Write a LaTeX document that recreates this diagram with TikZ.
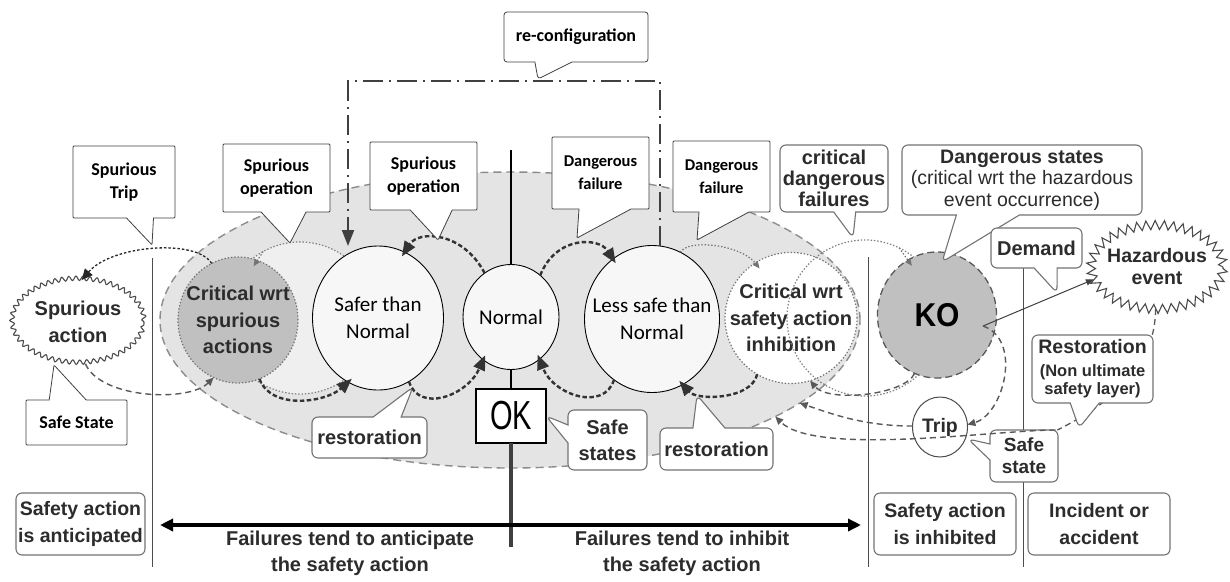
\documentclass[tikz,border=0pt]{standalone}
\usepackage{fontspec}
\usepackage{graphicx}
\setmainfont{Carlito}
\newfontfamily\arialfam{Liberation Sans}
\usetikzlibrary{shapes.geometric,shapes.callouts,arrows.meta,decorations.pathmorphing}
\definecolor{zonefill}{HTML}{E4E4E4}
\definecolor{halofill}{HTML}{EFEFEF}
\definecolor{darkfill}{HTML}{C0C0C0}
\definecolor{statefill}{HTML}{F7F7F7}
\definecolor{ink}{HTML}{2C2C2C}
\newcommand\calfont[2]{\fontsize{#1}{#2}\selectfont\bfseries}
\newcommand\arbold[2]{\arialfam\fontsize{#1}{#2}\selectfont\bfseries}
\newcommand\arreg[2]{\arialfam\fontsize{#1}{#2}\selectfont}

\begin{document}
\begin{tikzpicture}[x=1pt,y=-1pt,
  every node/.style={inner sep=0pt,outer sep=0pt,align=center},
  dims/.style 2 args={minimum width=#1pt,minimum height=#2pt},
  tight/.style={inner xsep=-40pt,inner ysep=-30pt},
  zonestyle/.style={ellipse,fill=zonefill,draw=black!45,line width=1.4pt,dash pattern=on 8pt off 5pt},
  halostyle/.style={circle,draw=black!50,line width=1.2pt,dash pattern=on 1.4pt off 1.9pt},
  statecirc/.style={ellipse,tight,draw=black,line width=0.9pt,fill=statefill,font=\fontsize{21}{27}\selectfont},
  critcirc/.style={ellipse,tight,draw=black!55,line width=1.2pt,dash pattern=on 1.4pt off 1.9pt,font=\arbold{20}{26.5},text=ink},
  calbox/.style={rectangle callout,draw=black!75,line width=0.8pt,fill=white,rounded corners=1pt},
  rndbox/.style={rectangle callout,draw=black!55,line width=1.1pt,fill=white,rounded corners=6pt,text=ink},
  plainbox/.style={rectangle,draw=black!55,line width=1.1pt,fill=white,rounded corners=6pt,text=ink,font=\arbold{19.5}{27}},
  sepline/.style={draw=black!70,line width=1pt},
  axisthin/.style={draw=black,line width=2pt},
  axisthick/.style={draw=black!75,line width=3.5pt},
  bigarr/.style={draw=black!80,line width=2.4pt,dash pattern=on 4.5pt off 2.5pt,-{Triangle[length=15pt,width=12pt]},shorten >=-5pt},
  dotsmall/.style={draw=black!55,line width=1.2pt,dash pattern=on 1.4pt off 1.9pt,-{Triangle[length=7pt,width=6pt]},shorten >=-7pt},
  dotarr/.style={draw=black!85,line width=1.3pt,dash pattern=on 2.5pt off 2pt,-{Triangle[length=11pt,width=10pt]}},
  dasharr/.style={draw=black!65,line width=1.4pt,dash pattern=on 6pt off 4pt,-{Triangle[length=8pt,width=7pt]}},
  thinarr/.style={draw=black!75,line width=1pt,-{Triangle[length=8pt,width=6pt]}},
  dashplain/.style={draw=black!65,line width=1.3pt,dash pattern=on 6pt off 4pt},
  reconf/.style={draw=black!75,line width=2pt,dash pattern=on 20pt off 6pt on 2pt off 6pt,-{Triangle[length=16pt,width=12pt]}},
  mainarrow/.style={draw=black,line width=4pt,{Triangle[length=13pt,width=12pt]}-{Triangle[length=13pt,width=12pt]}},
  wavy/.style={decorate,decoration={snake,segment length=7pt,amplitude=2.2pt}},
  spiky/.style={decorate,decoration={zigzag,segment length=9pt,amplitude=4.5pt}}
]
\useasboundingbox (0,0) rectangle (1230,581);
\fill[white] (0,0) rectangle (1230,581);

% failure zone and halo behind the spurious side
\node[zonestyle,dims={700}{296}] (zone) at (510,320) {};
\node[halostyle,fill=halofill,minimum size=152pt] (h1) at (300,318) {};

% separators between the zones
\coordinate (sepAtop) at (152,258); \coordinate (sepAbot) at (152,567);
\coordinate (sepBtop) at (868,257); \coordinate (sepBbot) at (868,567);
\coordinate (sepCtop) at (1023,268); \coordinate (sepCbot) at (1023,567);
\draw[sepline] (sepAtop) -- (sepAbot);
\draw[sepline] (sepBtop) -- (sepBbot);
\draw[sepline] (sepCtop) -- (sepCbot);

% states
\node[critcirc,fill=darkfill,dims={120}{126}] (crs) at (238,320) {Critical wrt\\spurious\\actions};
\node[statecirc,dims={131}{144}] (safer) at (378,318) {Safer than\\Normal};
\node[statecirc,dims={96}{105}] (normal) at (511,317) {Normal};
\node[statecirc,dims={135}{147}] (less) at (652,319) {Less safe than\\Normal};
\node[critcirc,fill=white,dims={132}{131}] (crsafe) at (791,318) {Critical wrt\\safety action\\inhibition};
\node[halostyle,minimum size=156pt] (h5) at (865,318) {};
\node[ellipse,tight,fill=darkfill,draw=black!65,line width=1.3pt,dash pattern=on 7pt off 4pt,dims={119}{126},font=\arbold{30}{30}] (ko) at (937,315) {\scalebox{1}[1.1]{KO}};
\node[ellipse,tight,draw=black!70,line width=1pt,fill=white,dims={55}{60},font=\arbold{19.5}{20},text=ink] (trip) at (940,427) {Trip};
\node[ellipse,tight,draw=black!70,line width=1.1pt,fill=white,wavy,dims={132}{84},font=\arbold{20}{27},text=ink] (sa) at (78,322) {Spurious\\action};
\node[ellipse,tight,draw=black!70,line width=1.1pt,fill=white,spiky,dims={132}{84},font=\arbold{19.5}{22},text=ink] (hz) at (1157,267) {Hazardous\\event};
\node[rectangle,draw=black,line width=1.3pt,fill=white,dims={70}{54},font=\arreg{29}{29}] (ok) at (511,416) {\scalebox{1}[1.4]{OK}};

% central axis
\coordinate (axtop) at (511,150); \coordinate (axbot) at (511,547);
\draw[axisthin] (axtop) -- (normal.north);
\draw[axisthin] (normal.south) -- (ok.north);
\draw[axisthick] (ok.south) -- (axbot);

% re-configuration loop
\coordinate (rcL) at (348,81); \coordinate (rcR) at (660,81);
\draw[reconf] (less.north -| rcR) -- (rcR) -- (rcL) -- (safer.north -| rcL);

% transitions on the spurious side
\draw[dotarr] (crs.115) .. controls +(-15,-25) and +(30,-35) .. (sa.85);
\draw[dasharr] (sa.-80) .. controls +(15,35) and +(-25,25) .. (crs.247);
\draw[dotsmall] (h1.119) -- (crs.72);
\draw[bigarr] (crs.-70) .. controls +(12,32) and +(-22,20) .. (safer.245);
\draw[bigarr] (normal.121) .. controls +(-22,-42) and +(14,-22) .. (safer.68);
\draw[bigarr] (safer.-64) .. controls +(10,32) and +(-16,36) .. (normal.-123);

% transitions on the dangerous side
\draw[bigarr] (normal.55) .. controls +(16,-40) and +(-14,-22) .. (less.123);
\draw[bigarr] (less.-122) .. controls +(-10,32) and +(14,36) .. (normal.-56);
\draw[dotsmall] (less.67) .. controls +(8,-14) and +(-14,-18) .. (crsafe.123);
\draw[bigarr] (crsafe.-121) .. controls +(-6,26) and +(14,16) .. (less.-65);
\draw[dotsmall] (h5.64) -- (ko.118);
\draw[dasharr] (ko.-111) .. controls +(-10,22) and +(18,22) .. (crsafe.-73);

% from the dangerous state
\coordinate (kojoin) at (983,326);
\draw[thinarr] (kojoin) -- (hz.191.5);
\draw[dasharr] (kojoin) .. controls +(40,14) and +(36,-10) .. (trip.5);
\node[rndbox,dims={68}{52},callout absolute pointer={(968,439)},callout pointer width=16pt,font=\arbold{19}{22}] (ss) at (1024,456) {Safe\\state};
\draw[dasharr] (trip.178) .. controls +(-50,0) and +(30,10) .. (zone.-16.5);
\draw[dasharr] (ss.200) .. controls +(-60,0) and +(40,40) .. (zone.-20.3);
\draw[dashplain] (hz.-92) .. controls +(0,60) and +(50,-25) .. (ss.15);

% labels of the transitions
\node[calbox,dims={102}{72},callout absolute pointer={(152,245)},callout pointer width=27pt,font=\calfont{18}{23}] (cSt) at (124,182) {Spurious\\Trip};
\node[calbox,dims={107}{68},callout absolute pointer={(290,243)},callout pointer width=45pt,font=\calfont{18}{23}] (cSo1) at (276.5,178) {Spurious\\operation};
\node[calbox,dims={107}{68},callout absolute pointer={(438,240)},callout pointer width=42pt,font=\calfont{18}{23}] (cSo2) at (423.5,176) {Spurious\\operation};
\node[calbox,dims={97}{72},callout absolute pointer={(577,238)},callout pointer width=52pt,font=\calfont{16.5}{23}] (cDf1) at (600.5,173) {Dangerous\\failure};
\node[calbox,dims={97}{71},callout absolute pointer={(697,240)},callout pointer width=50pt,font=\calfont{16.5}{23}] (cDf2) at (721.5,176.5) {Dangerous\\failure};
\node[calbox,rounded corners=3pt,dims={144}{50},callout absolute pointer={(538,79)},callout pointer width=37pt,font=\calfont{18}{20}] (cRc) at (576,37) {re-configuration};
\node[calbox,dims={101}{45},callout absolute pointer={(54,365)},callout pointer width=37pt,font=\calfont{18}{20}] (cSS) at (76.5,422.5) {Safe State};

\node[rndbox,dims={108}{67},callout absolute pointer={(853,238)},callout pointer width=22pt,font=\arbold{20}{21}] (cCdf) at (834,178.5) {critical\\dangerous\\failures};
\node[rndbox,dims={240}{70},callout absolute pointer={(942,262)},callout pointer width=63pt,font=\arreg{19.5}{21.5}] (cDs) at (1022,180) {{\bfseries Dangerous states}\\(critical wrt the hazardous\\event occurrence)};
\node[rndbox,dims={91}{40},callout absolute pointer={(1057,293)},callout pointer width=23pt,font=\arbold{20}{22}] (cDem) at (1036.5,248) {Demand};
\node[rndbox,dims={121}{68},callout absolute pointer={(1079,428)},callout pointer width=29pt,font=\arbold{16.5}{18}] (cRest) at (1092.5,369) {{\fontsize{19.5}{22}\selectfont Restoration}\\[5pt](Non ultimate\\safety layer)};
\node[rndbox,dims={79}{60},callout absolute pointer={(ok.east)},callout pointer width=18pt,font=\arbold{20}{26}] (cSst) at (607.5,440) {Safe\\states};
\node[rndbox,dims={113}{42},callout absolute pointer={(697,395)},callout pointer width=32pt,font=\arbold{20}{22}] (cRr) at (716.5,449) {restoration};
\node[rndbox,dims={115}{41},callout absolute pointer={(413,387)},callout pointer width=28pt,font=\arbold{20}{22}] (cRl) at (369.5,437.5) {restoration};

% bottom scale
\node[plainbox,dims={129}{62}] (bAnt) at (80.5,524) {Safety action\\is anticipated};
\node[plainbox,dims={142}{62}] (bInh) at (945,524) {Safety action\\is inhibited};
\node[plainbox,dims={142}{62}] (bAcc) at (1099,524) {Incident or\\accident};
\coordinate (arL) at (160,525); \coordinate (arR) at (861,525);
\draw[mainarrow] (arL) -- (arR);
\node[font=\arbold{20}{26},text=ink] (tAnt) at (350,553) {Failures tend to anticipate\\the safety action};
\node[font=\arbold{20}{26},text=ink] (tInh) at (682,553) {Failures tend to inhibit\\the safety action};
\end{tikzpicture}
\end{document}
